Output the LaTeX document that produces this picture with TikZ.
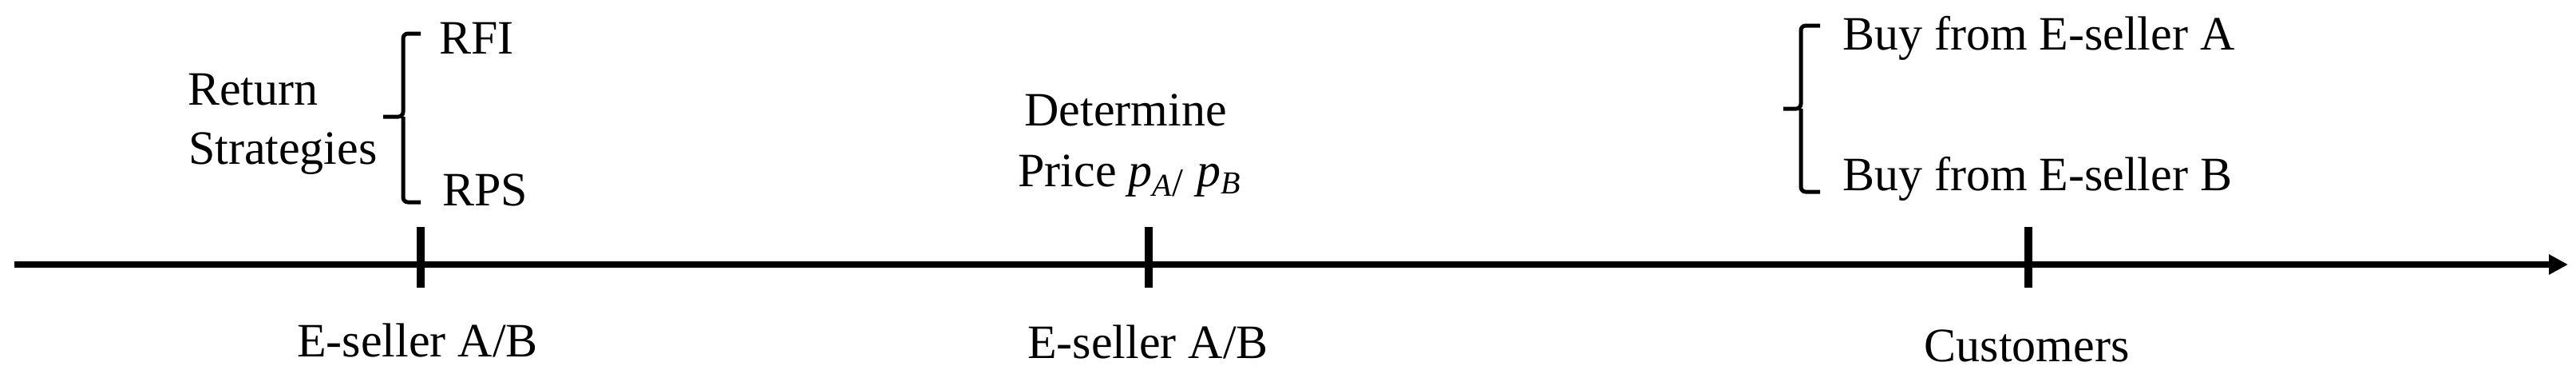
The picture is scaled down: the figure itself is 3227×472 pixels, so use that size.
\documentclass[tikz,border=0pt]{standalone}
\usepackage{fontspec}
\setmainfont{Liberation Serif}
\usetikzlibrary{arrows.meta}
\begin{document}
\begin{tikzpicture}[x=0.2pt,y=-0.2pt,
  txt/.style={inner sep=0pt,outer sep=0pt,font=\fontsize{12}{14}\selectfont},
  axis/.style={line width=1.7pt,-{Triangle[length=4.8pt,width=4.8pt]}},
  tickmark/.style={line width=2.1pt},
  bracket/.style={line width=1pt,rounded corners=1.2pt}]
\useasboundingbox (0,0) rectangle (3227,472);
% timeline
\coordinate (start) at (18,331);
\coordinate (end) at (3217,331);
\draw[axis] (start) -- (end);
\draw[tickmark] (527,284) -- (527,360);
\draw[tickmark] (1439,284) -- (1439,360);
\draw[tickmark] (2541,284) -- (2541,360);
% labels under timeline
\node[txt,anchor=base] (s1) at (523,446) {E-seller A/B};
\node[txt,anchor=base] (s2) at (1438,448) {E-seller A/B};
\node[txt,anchor=base] (cu) at (2539,452) {Customers};
% return strategies
\node[txt,anchor=base west] (ret) at (235,131) {Return};
\node[txt,anchor=base west] (str) at (236,205) {Strategies};
\draw[bracket] (527,42) -- (505,42) -- (505,146) -- (480,146);
\draw[bracket] (505,146) -- (505,253) -- (527,253);
\node[txt,anchor=base west] (rfi) at (550,67) {RFI};
\node[txt,anchor=base west] (rps) at (554,257) {RPS};
% determine price
\node[txt,anchor=base] (det) at (1410,157) {Determine};
\node[txt,anchor=base] (pri) at (1416,233) {Price {\itshape p}\textsubscript{\itshape A\upshape\fontsize{10}{10}\selectfont/} {\itshape p}\textsubscript{\itshape B}};
% customers choice
\draw[bracket] (2280,32) -- (2256,32) -- (2256,136) -- (2234,136);
\draw[bracket] (2256,136) -- (2256,240) -- (2280,240);
\node[txt,anchor=base west] (ba) at (2308,62) {Buy from E-seller A};
\node[txt,anchor=base west] (bb) at (2308,238) {Buy from E-seller B};
\end{tikzpicture}
\end{document}
